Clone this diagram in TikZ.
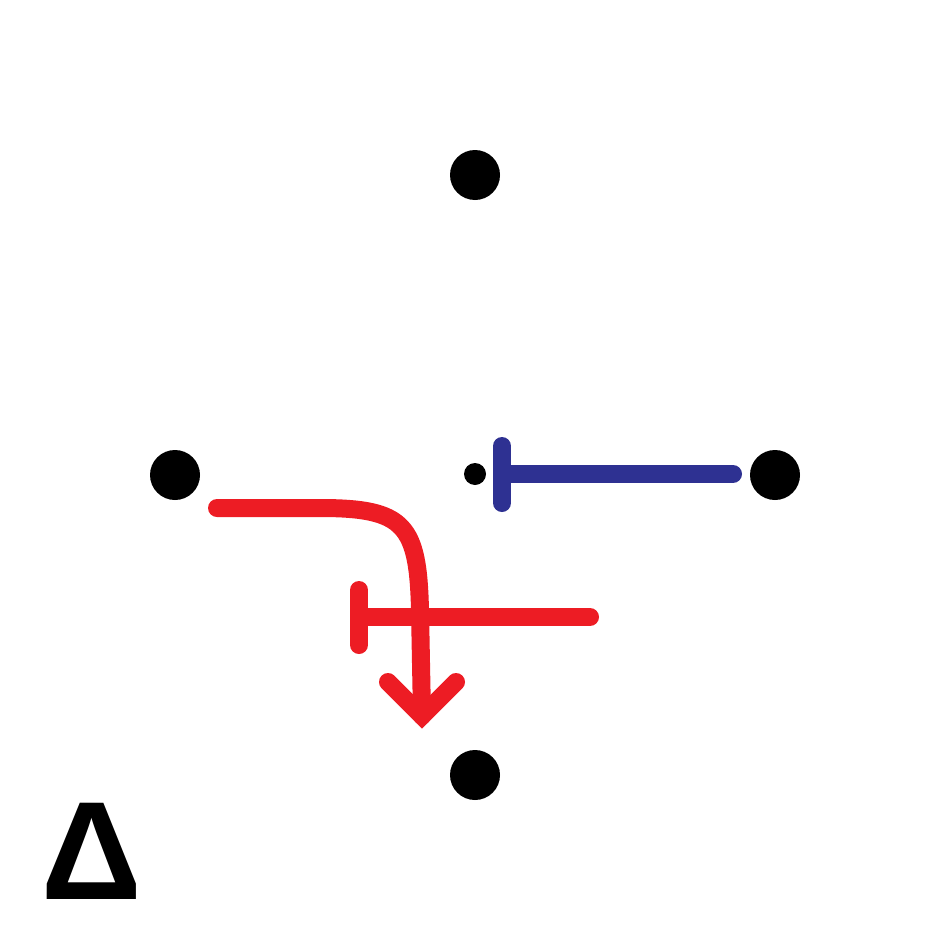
\documentclass[tikz,border=0pt]{standalone}
\usepackage{fontspec}
\newfontfamily\deltafont{Liberation Sans}
\definecolor{sigred}{RGB}{237,28,36}
\definecolor{sigblue}{RGB}{46,49,146}
\begin{document}
\begin{tikzpicture}[x=1pt,y=-1pt,
  dot/.style={circle,fill=black,inner sep=0pt,minimum size=50pt},
  smalldot/.style={circle,fill=black,inner sep=0pt,minimum size=22pt},
  redline/.style={draw=sigred,line width=18pt,line cap=round,line join=round},
  blueline/.style={draw=sigblue,line width=18pt,line cap=round,line join=round}]
\useasboundingbox (0,0) rectangle (950,950);
\node[dot] (top) at (475,175) {};
\node[dot] (left) at (175,475) {};
\node[dot] (right) at (775,475) {};
\node[dot] (bottom) at (475,775) {};
\node[smalldot] (centre) at (475,474) {};
% blue inhibition
\coordinate (bs) at (733,474);
\coordinate (bt) at (502,474);
\coordinate (bt1) at (502,446);
\coordinate (bt2) at (502,503);
\draw[blueline] (bs) -- (bt);
\draw[blueline] (bt1) -- (bt2);
% red inhibition
\coordinate (rs) at (590,617);
\coordinate (rt) at (359,617);
\coordinate (rt1) at (359,590);
\coordinate (rt2) at (359,645);
\draw[redline] (rs) -- (rt);
\draw[redline] (rt1) -- (rt2);
% red activation arrow
\coordinate (as) at (217,508);
\coordinate (at) at (422,716);
\coordinate (al) at (388,682);
\coordinate (ar) at (456,682);
\draw[redline] (as) -- (320,508) .. controls (405,508) and (418,525) .. (420,610) -- (at);
\draw[redline,line join=miter] (al) -- (at) -- (ar);
% delta
\node[inner sep=0pt,font=\deltafont\bfseries\fontsize{140}{140}\selectfont] (delta) at (92,851) {Δ};
\end{tikzpicture}
\end{document}
